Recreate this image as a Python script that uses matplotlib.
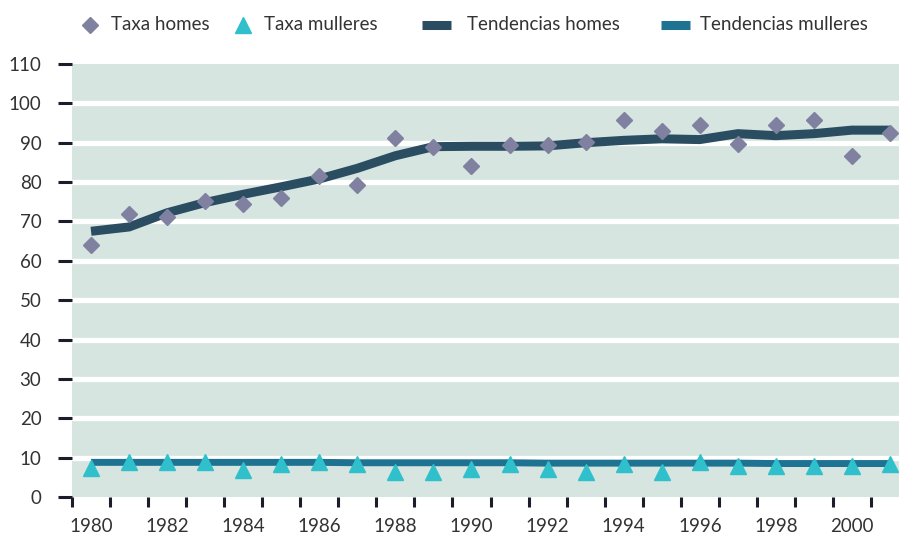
import matplotlib
matplotlib.use("Agg")
import matplotlib.pyplot as plt
from matplotlib.lines import Line2D
import numpy as np

plt.rcParams['font.family'] = ['Lato', 'DejaVu Sans']

years = list(range(1980, 2002))
taxa_homes = [64.1, 72.0, 71.2, 75.1, 74.5, 76.0, 81.5, 79.2, 91.3, 89.0, 84.2,
              89.3, 89.3, 90.1, 95.9, 93.1, 94.5, 89.8, 94.5, 95.7, 86.6, 92.4]
taxa_mulleres = [7.4, 8.8, 8.8, 8.8, 6.8, 8.4, 8.8, 8.5, 6.3, 6.3, 7.1,
                 8.5, 7.1, 6.3, 8.5, 6.3, 8.8, 8.0, 8.0, 8.0, 8.0, 8.5]
tend_homes = [67.5, 68.6, 72.2, 74.8, 76.9, 78.8, 80.8, 83.5, 86.7, 89.0, 89.1,
              89.1, 89.2, 90.0, 90.6, 91.0, 90.8, 92.3, 91.8, 92.3, 93.2, 93.2]
tend_mulleres = [8.8, 8.8, 8.8, 8.8, 8.8, 8.8, 8.8, 8.7, 8.7, 8.7, 8.7,
                 8.7, 8.6, 8.6, 8.6, 8.6, 8.6, 8.6, 8.5, 8.5, 8.5, 8.5]
yticks = list(range(0, 111, 10))
labels = ["Taxa homes", "Taxa mulleres", "Tendencias homes", "Tendencias mulleres"]

c_dia = '#8080a0'
c_tri = '#30c0cc'
c_th = '#2b4d62'
c_tm = '#1d7391'
c_bg = '#d6e5df'
c_tick = '#1c1c2a'
c_txt = '#333333'
fs = 13.5

W, H = 899, 535
fig = plt.figure(figsize=(W / 100, H / 100), dpi=100)
ax = fig.add_axes([72 / W, (H - 497) / H, (909 - 72) / W, (497 - 64) / H])
ax.set_facecolor(c_bg)
x = np.arange(len(years))

ax.plot(x, tend_homes, color=c_th, lw=6.5, solid_capstyle='butt', zorder=3)
ax.plot(x, tend_mulleres, color=c_tm, lw=5, solid_capstyle='butt', zorder=3)
ax.plot(x, taxa_homes, ls='none', marker='D', ms=8.2, color=c_dia, zorder=4)
ax.plot(x, taxa_mulleres, ls='none', marker='^', ms=11, color=c_tri, zorder=4)

ax.set_xlim(-0.5, len(years) - 0.5)
ax.set_ylim(0, 110)
for s in ax.spines.values():
    s.set_visible(False)

ax.set_yticks(yticks)
ax.set_yticklabels([str(v) for v in yticks])
ax.tick_params(axis='y', length=10, width=2.2, color=c_tick, pad=12,
               labelsize=fs, labelcolor=c_txt)
for v in yticks[1:-1]:
    ax.axhline(v, color='white', lw=3.8, zorder=1)

ax.set_xticks(np.arange(-0.5, len(years), 1))
ax.set_xticklabels([])
ax.tick_params(axis='x', which='major', length=7.5, width=2.2, color=c_tick)
ax.set_xticks(x[::2], minor=True)
ax.set_xticklabels([str(y) for y in years[::2]], minor=True)
ax.tick_params(axis='x', which='minor', length=0, pad=15, labelsize=fs,
               labelcolor=c_txt)

# legend (figure pixel coordinates)
ly = (H - 25) / H
def fx(px):
    return px / W
fig.add_artist(Line2D([fx(90)], [ly], marker='D', ms=8.2, color=c_dia, ls='none'))
fig.add_artist(Line2D([fx(243)], [ly], marker='^', ms=11, color=c_tri, ls='none'))
fig.add_artist(Line2D([fx(422), fx(451)], [ly, ly], color=c_th, lw=6.5, solid_capstyle='butt'))
fig.add_artist(Line2D([fx(661), fx(690)], [ly, ly], color=c_tm, lw=6.5, solid_capstyle='butt'))
for px, t in zip([111, 264, 467, 700], labels):
    fig.text(fx(px), ly, t, ha='left', va='center', fontsize=fs, color=c_txt)

fig.savefig("out.png", dpi=100)
